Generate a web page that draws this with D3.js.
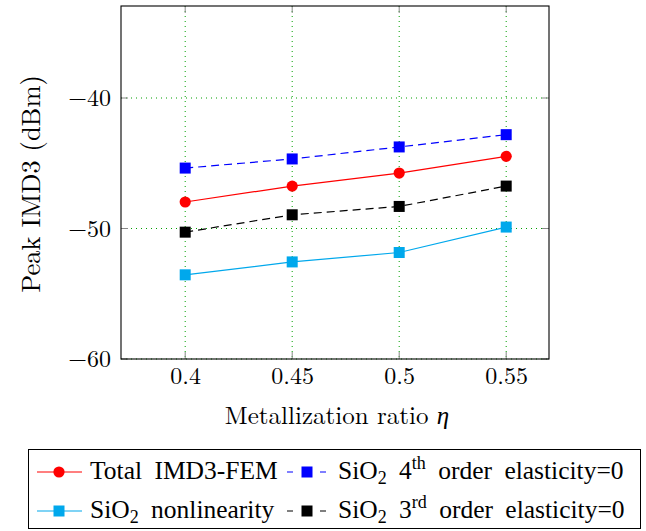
<!DOCTYPE html>
<html>
<head>
<meta charset="utf-8">
<script src="https://cdn.jsdelivr.net/npm/d3@7"></script>
<style>
  body { margin: 0; background: #fff; }
</style>
</head>
<body>
<div id="chart"></div>
<script>
const ratios = [0.4, 0.45, 0.5, 0.55];
const totalFem = [-47.97, -46.75, -45.75, -44.47];
const sio2Nonlin = [-53.55, -52.56, -51.84, -49.89];
const fourthZero = [-45.37, -44.67, -43.75, -42.81];
const thirdZero = [-50.28, -48.95, -48.31, -46.75];
const xTicks = [0.4, 0.45, 0.5, 0.55];
const yTicks = [-60, -50, -40];

const series = [
  { name: "total", values: totalFem, color: "#ff0000", dash: null, mark: "circle" },
  { name: "nonlin", values: sio2Nonlin, color: "#00a8ec", dash: null, mark: "square" },
  { name: "fourth", values: fourthZero, color: "#0000ff", dash: "8,5", mark: "square" },
  { name: "third", values: thirdZero, color: "#000000", dash: "8,5", mark: "square" }
];

const mathFont = "'Latin Modern Roman'";
const textFont = "'Liberation Serif'";

const width = 646, height = 531;
const margin = { top: 6, right: 97, bottom: 172, left: 121 };
const iw = width - margin.left - margin.right;
const ih = height - margin.top - margin.bottom;

const svg = d3.select("#chart").append("svg")
  .attr("width", width)
  .attr("height", height);

const g = svg.append("g")
  .attr("transform", "translate(" + margin.left + "," + margin.top + ")");

const x = d3.scaleLinear().domain([0.37, 0.57]).range([0, iw]);
const y = d3.scaleLinear().domain([-60, -32.95]).range([ih, 0]);

// grid
g.append("g").selectAll("line")
  .data(xTicks).enter().append("line")
  .attr("x1", d => x(d)).attr("x2", d => x(d))
  .attr("y1", 0).attr("y2", ih)
  .style("stroke", "#00a000").style("stroke-width", 1)
  .style("stroke-dasharray", "1,4");
g.append("g").selectAll("line")
  .data(yTicks).enter().append("line")
  .attr("x1", 0).attr("x2", iw)
  .attr("y1", d => y(d)).attr("y2", d => y(d))
  .style("stroke", "#00a000").style("stroke-width", 1)
  .style("stroke-dasharray", "1,4");

// tick marks inside on all sides
const tk = 7;
const ticksG = g.append("g").style("stroke", "#888").style("stroke-width", 1);
xTicks.forEach(t => {
  ticksG.append("line").attr("x1", x(t)).attr("x2", x(t)).attr("y1", ih).attr("y2", ih - tk);
  ticksG.append("line").attr("x1", x(t)).attr("x2", x(t)).attr("y1", 0).attr("y2", tk);
});
yTicks.forEach(t => {
  ticksG.append("line").attr("x1", 0).attr("x2", tk).attr("y1", y(t)).attr("y2", y(t));
  ticksG.append("line").attr("x1", iw).attr("x2", iw - tk).attr("y1", y(t)).attr("y2", y(t));
});

// tick labels via d3 axes (no lines)
const xAxis = g.append("g")
  .attr("transform", "translate(0," + ih + ")")
  .call(d3.axisBottom(x).tickValues(xTicks).tickSize(0).tickPadding(8).tickFormat(d3.format("")));
const yAxis = g.append("g")
  .call(d3.axisLeft(y).tickValues(yTicks).tickSize(0).tickPadding(10).tickFormat(d3.format("d")));
[xAxis, yAxis].forEach(a => {
  a.select(".domain").remove();
  a.attr("font-family", mathFont).attr("font-size", 24);
  a.selectAll("text")
    .attr("font-family", mathFont)
    .style("font-size", "24px")
    .style("fill", "#000");
});
xAxis.selectAll("text").attr("dy", "0.71em");

// frame
g.append("rect")
  .attr("width", iw).attr("height", ih)
  .style("fill", "none").style("stroke", "#000").style("stroke-width", 1.1);

// lines + markers
const line = d3.line().x((d, i) => x(ratios[i])).y(d => y(d));
series.forEach(s => {
  g.append("path")
    .datum(s.values)
    .attr("d", line)
    .style("fill", "none")
    .style("stroke", s.color)
    .style("stroke-width", 1.2)
    .style("stroke-dasharray", s.dash);
  if (s.mark === "circle") {
    g.selectAll(".m-" + s.name).data(s.values).enter().append("circle")
      .attr("cx", (d, i) => x(ratios[i])).attr("cy", d => y(d))
      .attr("r", 5.6).style("fill", s.color);
  } else {
    g.selectAll(".m-" + s.name).data(s.values).enter().append("rect")
      .attr("x", (d, i) => x(ratios[i]) - 5.5).attr("y", d => y(d) - 5.5)
      .attr("width", 11).attr("height", 11).style("fill", s.color);
  }
});

// axis titles
const xt = svg.append("text")
  .attr("x", margin.left + iw / 2 + 2).attr("y", 424)
  .attr("text-anchor", "middle")
  .attr("font-family", mathFont)
  .style("font-size", "25px");
xt.append("tspan").text("Metallization ratio ");
xt.append("tspan").style("font-style", "italic").text("η");

svg.append("text")
  .attr("transform", "translate(40,184) rotate(-90)")
  .attr("text-anchor", "middle")
  .attr("font-family", mathFont)
  .style("font-size", "26.5px")
  .text("Peak IMD3 (dBm)");

// legend
const lg = svg.append("g");
lg.append("rect")
  .attr("x", 28.5).attr("y", 449.5).attr("width", 612).attr("height", 79)
  .style("fill", "#fff").style("stroke", "#000").style("stroke-width", 1);

const legendItems = [
  { s: series[0], lx: 37, ty: 472, label: ["Total IMD3-FEM"] },
  { s: series[2], lx: 287, ty: 472, label: ["SiO", "2", " 4", "th", " order elasticity=0"] },
  { s: series[1], lx: 37, ty: 511, label: ["SiO", "2", " nonlinearity"] },
  { s: series[3], lx: 287, ty: 511, label: ["SiO", "2", " 3", "rd", " order elasticity=0"] }
];

legendItems.forEach(it => {
  const s = it.s;
  const len = s.dash ? 39 : 45;
  lg.append("line")
    .attr("x1", it.lx).attr("x2", it.lx + len)
    .attr("y1", it.ty).attr("y2", it.ty)
    .style("stroke", s.color).style("stroke-width", 1.2)
    .style("stroke-dasharray", s.dash ? "6,27" : null);
  const cx = it.lx + (s.dash ? 20 : 22);
  if (s.mark === "circle") {
    lg.append("circle").attr("cx", cx).attr("cy", it.ty).attr("r", 5.6).style("fill", s.color);
  } else {
    lg.append("rect").attr("x", cx - 5.5).attr("y", it.ty - 5.5)
      .attr("width", 11).attr("height", 11).style("fill", s.color);
  }
  const t = lg.append("text")
    .attr("x", it.lx + (s.dash ? 51 : 53)).attr("y", it.ty + 7)
    .attr("font-family", textFont)
    .style("font-size", "25.5px")
    .style("word-spacing", "6px");
  if (it.label.length === 1) {
    t.text(it.label[0]);
  } else {
    t.append("tspan").text(it.label[0]);
    t.append("tspan").attr("dy", 5).style("font-size", "18px").text(it.label[1]);
    t.append("tspan").attr("dy", -5).text(it.label[2]);
    if (it.label.length > 3) {
      t.append("tspan").attr("dy", -10).style("font-size", "18px").text(it.label[3]);
      t.append("tspan").attr("dy", 10).text(it.label[4]);
    }
  }
});
</script>
</body>
</html>
